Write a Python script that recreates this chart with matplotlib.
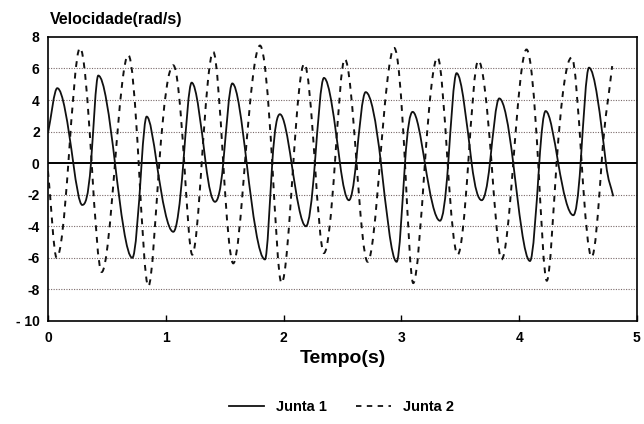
"""Joint velocities over time (Junta 1 / Junta 2)."""

import matplotlib

matplotlib.use("Agg")
import matplotlib.pyplot as plt
import numpy as np
from matplotlib.lines import Line2D
from matplotlib.patches import PathPatch
from matplotlib.path import Path

# key points: extremes and zero crossings
junta1_t = [0.0, 0.079, 0.215, 0.291, 0.365, 0.427, 0.569, 0.716, 0.795, 0.838,
            0.923, 1.064, 1.149, 1.22, 1.339, 1.418, 1.488, 1.565, 1.687, 1.842,
            1.904, 1.969, 2.068, 2.19, 2.266, 2.343, 2.479, 2.555, 2.615, 2.697,
            2.827, 2.96, 3.031, 3.096, 3.2, 3.328, 3.398, 3.469, 3.597, 3.682,
            3.752, 3.831, 3.95, 4.092, 4.171, 4.225, 4.332, 4.46, 4.522, 4.593,
            4.737, 4.799]
junta1_v = [1.9, 4.75, 0, -2.65, 0, 5.55, 0, -6.0, 0, 2.95,
            0, -4.35, 0, 5.1, 0, -2.45, 0, 5.05, 0, -6.1,
            0, 3.1, 0, -4.0, 0, 5.4, 0, -2.35, 0, 4.5,
            0, -6.25, 0, 3.25, 0, -3.65, 0, 5.7, 0, -2.35,
            0, 4.1, 0, -6.2, 0, 3.3, 0, -3.3, 0, 6.05,
            0, -2.1]

junta2_t = [0.0, 0.074, 0.173, 0.272, 0.371, 0.456, 0.569, 0.682, 0.77, 0.852,
            0.945, 1.064, 1.157, 1.225, 1.305, 1.403, 1.488, 1.573, 1.672, 1.8,
            1.904, 1.983, 2.083, 2.176, 2.266, 2.343, 2.436, 2.52, 2.62, 2.714,
            2.818, 2.94, 3.031, 3.101, 3.2, 3.308, 3.393, 3.478, 3.568, 3.653,
            3.766, 3.851, 3.95, 4.063, 4.162, 4.235, 4.318, 4.446, 4.531, 4.616,
            4.7, 4.79]
junta2_v = [-0.5, -6.0, 0, 7.3, 0, -6.9, 0, 6.85, 0, -7.8,
            0, 6.2, 0, -5.8, 0, 7.05, 0, -6.35, 0, 7.45,
            0, -7.6, 0, 6.3, 0, -5.7, 0, 6.6, 0, -6.25,
            0, 7.3, 0, -7.6, 0, 6.7, 0, -5.8, 0, 6.5,
            0, -6.1, 0, 7.2, 0, -7.45, 0, 6.7, 0, -5.95,
            0, 6.15]

x_ticks = [0, 1, 2, 3, 4, 5]
y_ticks = [-10, -8, -6, -4, -2, 0, 2, 4, 6, 8]
y_labels = ["- 10", "-8", "-6", "-4", "-2", "0", "2", "4", "6", "8"]


def smooth_path(t, v):
    """Cubic Hermite path (as Bezier segments) through the read points."""
    t = np.asarray(t, float)
    v = np.asarray(v, float)
    n = len(t)
    slope = np.zeros(n)
    for i in range(n):
        if i == 0:
            slope[i] = (v[1] - v[0]) / (t[1] - t[0])
        elif i == n - 1:
            slope[i] = (v[-1] - v[-2]) / (t[-1] - t[-2])
        elif (v[i] - v[i - 1]) * (v[i + 1] - v[i]) < 0:
            slope[i] = 0.0
        else:
            slope[i] = np.pi / 2 * (v[i + 1] - v[i - 1]) / (t[i + 1] - t[i - 1])
    verts = [(t[0], v[0])]
    codes = [Path.MOVETO]
    for i in range(n - 1):
        h = (t[i + 1] - t[i]) / 3
        verts += [(t[i] + h, v[i] + slope[i] * h),
                  (t[i + 1] - h, v[i + 1] - slope[i + 1] * h),
                  (t[i + 1], v[i + 1])]
        codes += [Path.CURVE4] * 3
    return Path(verts, codes)


plt.rcParams["font.family"] = ["Liberation Sans", "DejaVu Sans"]

fig = plt.figure(figsize=(6.44, 4.24), dpi=100)
ax = fig.add_axes([0.0745, 0.243, 0.9145, 0.670])

for yy in y_ticks[1:-1]:
    if yy == 0:
        ax.axhline(0, color="black", lw=1.4, zorder=2)
    else:
        ax.axhline(yy, color="#7a6a6a", lw=0.8, ls=(0, (1, 1.3)), zorder=1)

ax.add_patch(PathPatch(smooth_path(junta1_t, junta1_v), fill=False,
                       edgecolor="#111111", lw=1.3, zorder=3))
ax.add_patch(PathPatch(smooth_path(junta2_t, junta2_v), fill=False,
                       edgecolor="#111111", lw=1.4, ls=(0, (3, 3)), zorder=3))

ax.set_xlim(0, 5)
ax.set_ylim(-10, 8)
ax.set_xticks(x_ticks)
ax.set_xticklabels([str(x) for x in x_ticks], fontweight="bold", fontsize=10)
ax.set_yticks(y_ticks)
ax.set_yticklabels(y_labels, fontweight="bold", fontsize=10)
ax.tick_params(axis="x", direction="in", length=4, width=1, pad=7)
ax.tick_params(axis="y", length=0, pad=6)
for side in ax.spines.values():
    side.set_linewidth(1.2)

ax.set_xlabel("Tempo(s)", fontsize=14, fontweight="bold", labelpad=4)
fig.text(0.078, 0.955, "Velocidade(rad/s)", fontsize=11.5, fontweight="bold",
         ha="left", va="center")

handles = [Line2D([], [], color="#111111", lw=1.3),
           Line2D([], [], color="#111111", lw=1.3, ls=(0, (3, 3)))]
fig.legend(handles, ["Junta 1", "Junta 2"], loc="center", ncol=2,
           bbox_to_anchor=(0.53, 0.04), frameon=False, handlelength=2.4,
           columnspacing=2.0, prop={"weight": "bold", "size": 10.5})

fig.savefig("out.png", dpi=100)
